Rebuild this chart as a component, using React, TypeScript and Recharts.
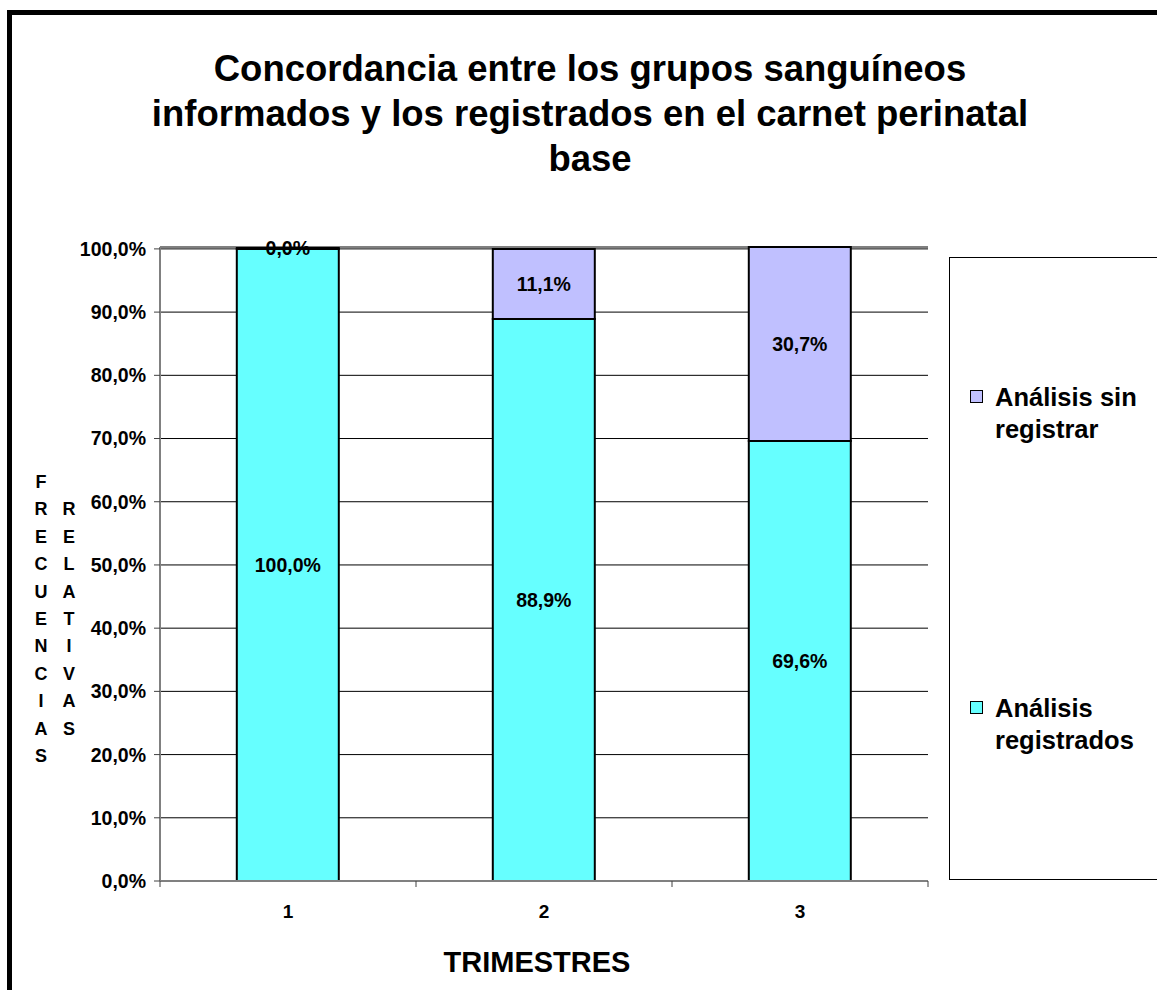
import React from "react";
import {
  BarChart,
  Bar,
  XAxis,
  YAxis,
  CartesianGrid,
  Legend,
  LabelList,
} from "recharts";

const trimestres = ["1", "2", "3"];
const registrados = [100.0, 88.9, 69.6];
const sinRegistrar = [0.0, 11.1, 30.7];
const yTicks = [0, 10, 20, 30, 40, 50, 60, 70, 80, 90, 100];

const data = trimestres.map((t, i) => ({
  trimestre: t,
  registrados: registrados[i],
  sinRegistrar: sinRegistrar[i],
}));

const FONT = '"Liberation Sans", Arial, sans-serif';
const TICK_SIZE = 6;
const TICK_MARGIN = 18;

const pct = (v: any) => `${Number(v).toFixed(1).replace(".", ",")}%`;

const labelStyle = { fontFamily: FONT, fontWeight: "bold", fontSize: 19.5, fill: "#000" };

const XTick = (props: any) => {
  const { x, y, payload, index, visibleTicksCount, width } = props;
  const half =
    payload && payload.offset ? payload.offset : width / visibleTicksCount / 2;
  const axisY = y - TICK_SIZE - TICK_MARGIN;
  const left = x - half;
  return (
    <g>
      <line x1={left} x2={left} y1={axisY} y2={axisY + TICK_SIZE} stroke="#404040" />
      {index === visibleTicksCount - 1 && (
        <line x1={x + half} x2={x + half} y1={axisY} y2={axisY + TICK_SIZE} stroke="#404040" />
      )}
      <text
        x={x}
        y={y}
        dy="0.71em"
        textAnchor="middle"
        fontFamily={FONT}
        fontWeight="bold"
        fontSize={19}
        fill="#000"
      >
        {payload.value}
      </text>
    </g>
  );
};

const YLabel = (props: any) => {
  const { viewBox } = props;
  const cy = viewBox.y + viewBox.height / 2 + 55;
  const step = 27.4;
  const col = (word: string, cx: number) => {
    const start = cy - ((word.length - 1) / 2) * step;
    return word.split("").map((ch, i) => (
      <text
        key={`${word}-${i}`}
        x={cx}
        y={start + i * step}
        textAnchor="middle"
        dominantBaseline="central"
        fontFamily={FONT}
        fontWeight="bold"
        fontSize={18}
        fill="#000"
      >
        {ch}
      </text>
    ));
  };
  return (
    <g>
      {col("FRECUENCIAS", viewBox.x + 41)}
      {col("RELATIVAS", viewBox.x + 69)}
    </g>
  );
};

const LegendBox = (props: any) => {
  const items = [...(props.payload || [])].reverse();
  return (
    <div
      style={{
        width: "100%",
        height: "100%",
        display: "flex",
        flexDirection: "column",
        justifyContent: "space-around",
        boxSizing: "border-box",
      }}
    >
      {items.map((it: any) => (
        <div key={it.value} style={{ display: "flex", alignItems: "flex-start", paddingLeft: 20 }}>
          <div
            style={{
              width: 11,
              height: 11,
              background: it.color,
              border: "1.5px solid #000",
              marginTop: 9,
              marginRight: 12,
              flexShrink: 0,
            }}
          />
          <div
            style={{
              fontFamily: FONT,
              fontWeight: "bold",
              fontSize: 25.5,
              lineHeight: "32px",
              width: 170,
              color: "#000",
              textAlign: "left",
            }}
          >
            {it.value}
          </div>
        </div>
      ))}
    </div>
  );
};

export default function App() {
  return (
    <div
      style={{
        position: "fixed",
        left: 0,
        top: 0,
        width: 1157,
        height: 990,
        overflow: "hidden",
        background: "#fff",
      }}
    >
      <div
        style={{
          position: "absolute",
          left: 7,
          top: 10,
          width: 1300,
          height: 1200,
          border: "5px solid #000",
        }}
      />
      <div
        style={{
          position: "absolute",
          left: 40,
          top: 46,
          width: 1100,
          textAlign: "center",
          fontFamily: FONT,
          fontWeight: "bold",
          fontSize: 36.5,
          lineHeight: "45px",
          whiteSpace: "nowrap",
          color: "#000",
        }}
      >
        Concordancia entre los grupos sanguíneos
        <br />
        informados y los registrados en el carnet perinatal
        <br />
        base
      </div>
      <div style={{ position: "absolute", left: 0, top: 0 }}>
        <BarChart
          width={1157}
          height={990}
          data={data}
          margin={{ top: 247, right: 229, bottom: 0, left: 0 }}
          barCategoryGap="30%"
        >
          <CartesianGrid vertical={false} stroke="#000" strokeWidth={1} />
          <XAxis
            dataKey="trimestre"
            height={109}
            tickLine={false}
            tickSize={TICK_SIZE}
            tickMargin={TICK_MARGIN}
            axisLine={{ stroke: "#808080", strokeWidth: 2 }}
            tick={<XTick />}
            label={{
              value: "TRIMESTRES",
              position: "insideBottom",
              offset: 18,
              dx: -7,
              fontFamily: FONT,
              fontWeight: "bold",
              fontSize: 29,
              fill: "#000",
            }}
          />
          <YAxis
            width={160}
            domain={[0, 100]}
            ticks={yTicks}
            tickFormatter={pct}
            tickSize={6}
            tickMargin={8}
            tickLine={{ stroke: "#404040" }}
            axisLine={{ stroke: "#808080", strokeWidth: 2 }}
            tick={{ fontFamily: FONT, fontWeight: "bold", fontSize: 19.5, fill: "#000" }}
            label={<YLabel />}
          />
          <YAxis
            yAxisId="right"
            orientation="right"
            width={0}
            tick={false}
            tickLine={false}
            axisLine={{ stroke: "#808080", strokeWidth: 2 }}
          />
          <Legend
            layout="horizontal"
            verticalAlign="middle"
            align="center"
            content={<LegendBox />}
            wrapperStyle={{
              left: 949,
              top: 257,
              width: 240,
              height: 623,
              border: "1px solid #000",
              boxSizing: "border-box",
            }}
          />
          <Bar
            dataKey="registrados"
            name="Análisis registrados"
            stackId="a"
            fill="#66FFFF"
            stroke="#000"
            strokeWidth={2}
            isAnimationActive={false}
          >
            <LabelList
              dataKey="registrados"
              position="center"
              formatter={pct}
              style={labelStyle}
            />
          </Bar>
          <Bar
            dataKey="sinRegistrar"
            name="Análisis sin registrar"
            stackId="a"
            fill="#C0C0FF"
            stroke="#000"
            strokeWidth={2}
            minPointSize={1}
            isAnimationActive={false}
          >
            <LabelList
              dataKey="sinRegistrar"
              position="center"
              formatter={pct}
              style={labelStyle}
            />
          </Bar>
        </BarChart>
      </div>
    </div>
  );
}
